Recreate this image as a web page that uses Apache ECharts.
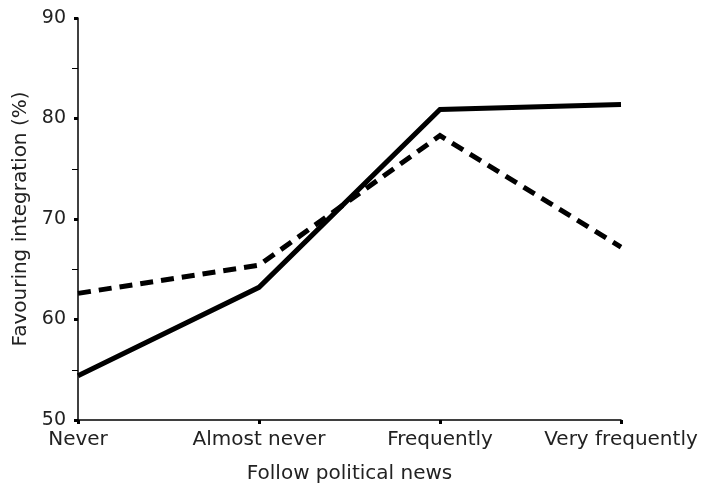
<!DOCTYPE html>
<html>
<head>
<meta charset="utf-8">
<script src="https://cdn.jsdelivr.net/npm/echarts@6/dist/echarts.min.js"></script>
<style>
  html, body { margin: 0; padding: 0; background: #fff; }
  #chart { width: 701px; height: 484px; }
</style>
</head>
<body>
<div id="chart"></div>
<script>
// Share favouring integration by how often people follow political news
const categories = ['Never', 'Almost never', 'Frequently', 'Very frequently'];
const solidSeries = [54.4, 63.2, 80.9, 81.4];
const dashedSeries = [62.6, 65.4, 78.3, 67.2];
const yTicks = [50, 60, 70, 80, 90];

const chart = echarts.init(document.getElementById('chart'));
const textColor = '#222';
const font = '"DejaVu Sans", Arial, sans-serif';

chart.setOption({
  animation: false,
  grid: { left: 78, right: 80, top: 18, bottom: 64, containLabel: false, outerBoundsMode: 'none' },
  xAxis: {
    type: 'category',
    data: categories,
    boundaryGap: false,
    name: 'Follow political news',
    nameLocation: 'middle',
    nameGap: 44,
    nameTextStyle: { color: textColor, fontSize: 20, fontFamily: font },
    axisLine: { lineStyle: { color: '#000', width: 1.5 } },
    axisTick: { show: true, inside: false, length: 4, interval: 0, lineStyle: { color: '#000', width: 3 } },
    axisLabel: { color: textColor, fontSize: 20, fontFamily: font, margin: 10, interval: 0, hideOverlap: false },
    splitLine: { show: false }
  },
  yAxis: {
    type: 'value',
    min: yTicks[0],
    max: yTicks[yTicks.length - 1],
    interval: 10,
    name: 'Favouring integration (%)',
    nameLocation: 'middle',
    nameGap: 46,
    nameTextStyle: { color: textColor, fontSize: 20, fontFamily: font },
    axisLine: { show: true, lineStyle: { color: '#000', width: 1.5 } },
    axisTick: { show: true, length: 4, lineStyle: { color: '#000', width: 3 } },
    minorTick: { show: true, splitNumber: 2, length: 6, lineStyle: { color: '#000', width: 1 } },
    axisLabel: { color: textColor, fontSize: 19, fontFamily: font, margin: 12 },
    splitLine: { show: false }
  },
  series: [
    {
      type: 'line',
      data: solidSeries,
      symbol: 'none',
      lineStyle: { color: '#000', width: 5, type: 'solid', join: 'miter' }
    },
    {
      type: 'line',
      data: dashedSeries,
      symbol: 'none',
      lineStyle: { color: '#000', width: 5, type: [13, 8], join: 'miter' }
    }
  ]
});
</script>
</body>
</html>
